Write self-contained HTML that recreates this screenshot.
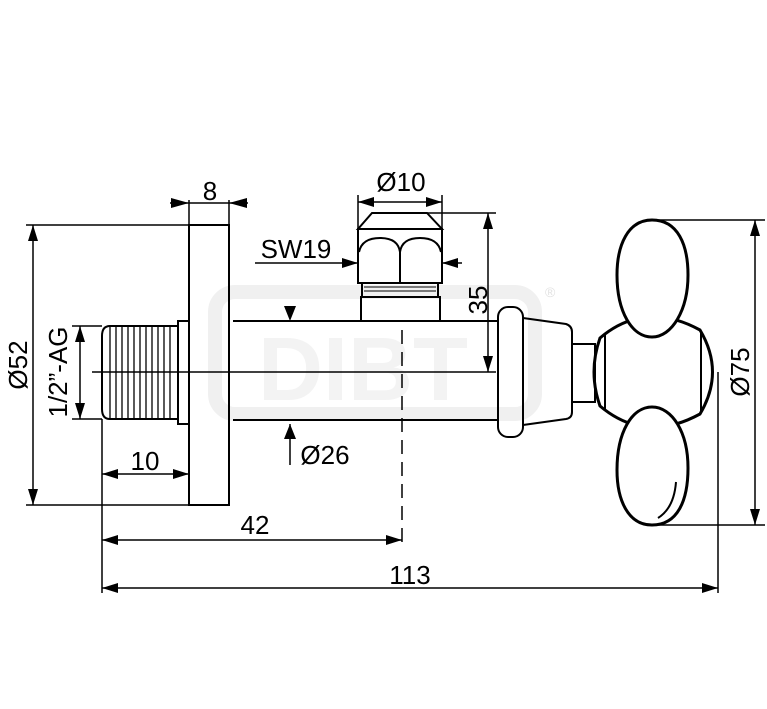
<!DOCTYPE html>
<html><head><meta charset="utf-8"><style>html,body{margin:0;padding:0;background:#fff}svg{display:block}</style></head>
<body>
<svg width="767" height="709" viewBox="0 0 767 709" xmlns="http://www.w3.org/2000/svg" font-family="Liberation Sans, sans-serif" font-size="26">
<!-- watermark -->
<g fill="none" stroke="#f0f0f0" stroke-width="14">
<rect x="215" y="292" width="320" height="122" rx="20"/>
</g>
<g fill="#f3f3f3" font-size="90" font-weight="bold"><text x="258" y="400">DIBT</text></g>
<text x="545" y="297" font-size="14" fill="#e2e2e2">®</text>

<g stroke="#000" stroke-width="2" fill="none">
<rect x="189" y="225" width="40" height="280"/>
<path d="M178 326 H110 Q102 326 102 336 V409 Q102 419 110 419 H178 Z"/>
<rect x="178" y="321" width="11" height="103"/>
<line x1="233" y1="321" x2="499" y2="321"/>
<line x1="233" y1="420" x2="499" y2="420"/>
<path d="M372 213 H427 L442 229 H358 Z"/>
<rect x="358" y="229" width="84" height="54"/>
<path d="M359 252 Q362 238 380 238 Q398 238 400 252 V283 M400 252 Q402 238 420 238 Q438 238 441 252"/>
<rect x="362" y="283" width="76" height="14"/>
<rect x="361" y="297" width="79" height="24"/>
<rect x="498" y="307" width="25" height="130" rx="10"/>
<path d="M523 318 L566 324 Q572 326 572 332 V412 Q572 418 566 419 L523 425"/>
<rect x="572" y="344" width="23" height="58"/>
<path d="M600 338 Q645 300 700 330 Q725 372 700 414 Q645 444 600 406 Q588 372 600 338 Z" stroke-width="3"/>
<line x1="605" y1="335" x2="605" y2="410"/>
<line x1="701" y1="332" x2="701" y2="412"/>
<path d="M652 220 C678 220 688 245 688 275 C688 310 672 337 652 337 C632 337 617 312 617 275 C617 245 628 220 652 220 Z" fill="#fff" stroke-width="3"/>
<path d="M652 407 C672 407 688 432 688 468 C688 500 678 525 652 525 C628 525 617 500 617 470 C617 432 632 407 652 407 Z" fill="#fff" stroke-width="3"/>
<path d="M676 482 Q674 508 658 518"/>
</g>
<g stroke="#000" stroke-width="1.5" fill="none">
<path d="M110 327V418M116 327V418M122 327V418M128 327V418M134 327V418M140 327V418M146 327V418M152 327V418M158 327V418M164 327V418M170 327V418" stroke-width="1.3"/>
<path d="M364 287H436M364 291H436" stroke-width="1"/>
<line x1="92" y1="372" x2="496" y2="372"/>
<line x1="402" y1="330" x2="402" y2="545" stroke-dasharray="14,8"/>
<line x1="189" y1="200" x2="189" y2="225"/><line x1="229" y1="200" x2="229" y2="225"/>
<line x1="170" y1="203" x2="248" y2="203"/>
<line x1="358" y1="195" x2="358" y2="229"/><line x1="442" y1="195" x2="442" y2="229"/>
<line x1="358" y1="202" x2="442" y2="202"/>
<line x1="255" y1="263" x2="358" y2="263"/><line x1="442" y1="263" x2="462" y2="263"/>
<line x1="427" y1="213" x2="496" y2="213"/><line x1="488" y1="213" x2="488" y2="372"/>
<line x1="290" y1="424" x2="290" y2="465"/>
<line x1="26" y1="225" x2="189" y2="225"/><line x1="26" y1="505" x2="189" y2="505"/>
<line x1="33" y1="225" x2="33" y2="505"/>
<line x1="72" y1="326" x2="102" y2="326"/><line x1="72" y1="419" x2="102" y2="419"/>
<line x1="80" y1="326" x2="80" y2="419"/>
<line x1="102" y1="419" x2="102" y2="593"/>
<line x1="102" y1="474" x2="189" y2="474"/>
<line x1="102" y1="540" x2="402" y2="540"/>
<line x1="102" y1="588" x2="718" y2="588"/>
<line x1="718" y1="372" x2="718" y2="593"/>
<line x1="655" y1="220" x2="765" y2="220"/><line x1="655" y1="525" x2="765" y2="525"/>
<line x1="755" y1="220" x2="755" y2="525"/>
</g>
<g fill="#000">
<polygon points="189,203 171,198 171,208"/><polygon points="229,203 247,198 247,208"/>
<polygon points="358,202 374,197 374,207"/><polygon points="442,202 426,197 426,207"/>
<polygon points="358,263 342,258 342,268"/><polygon points="442,263 458,258 458,268"/>
<polygon points="488,213 483,229 493,229"/><polygon points="488,372 483,356 493,356"/>
<polygon points="290,321 284,306 296,306"/><polygon points="290,424 284,439 296,439"/>
<polygon points="33,225 28,241 38,241"/><polygon points="33,505 28,489 38,489"/>
<polygon points="80,326 75,342 85,342"/><polygon points="80,419 75,403 85,403"/>
<polygon points="102,474 118,469 118,479"/><polygon points="189,474 173,469 173,479"/>
<polygon points="102,540 118,535 118,545"/><polygon points="402,540 386,535 386,545"/>
<polygon points="102,588 118,583 118,593"/><polygon points="718,588 702,583 702,593"/>
<polygon points="755,220 750,236 760,236"/><polygon points="755,525 750,509 760,509"/>
<text x="210" y="200" text-anchor="middle">8</text>
<text x="401" y="191" text-anchor="middle">Ø10</text>
<text x="296" y="258" text-anchor="middle">SW19</text>
<text x="325" y="464" text-anchor="middle">Ø26</text>
<text x="145" y="470" text-anchor="middle">10</text>
<text x="255" y="534" text-anchor="middle">42</text>
<text x="410" y="584" text-anchor="middle">113</text>
<text transform="translate(487,300) rotate(-90)" text-anchor="middle">35</text>
<text transform="translate(27,365) rotate(-90)" text-anchor="middle">Ø52</text>
<text transform="translate(67,372) rotate(-90)" text-anchor="middle">1/2”-AG</text>
<text transform="translate(749,372) rotate(-90)" text-anchor="middle">Ø75</text>
</g>
</svg>
</body></html>
